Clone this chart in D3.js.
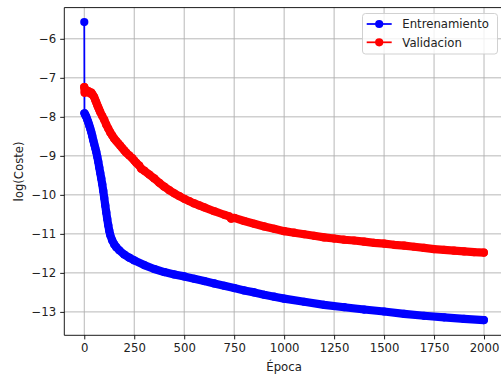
<!DOCTYPE html>
<html>
<head>
<meta charset="utf-8">
<script src="https://cdn.jsdelivr.net/npm/d3@7"></script>
<style>
  html, body { margin: 0; padding: 0; background: #ffffff; }
  svg { display: block; font-family: "DejaVu Sans", sans-serif; }
</style>
</head>
<body>
<svg id="chart" width="501" height="378"></svg>
<script>
// Training loss per epoch (log scale values)
const trainEpochs = [0,1,5,10,15,20,25,30,35,40,45,50,55,60,65,70,75,80,85,90,95,100,105,110,115,120,125,130,140,150,160,175,200,225,250,300,350,400,450,500,550,600,650,700,750,800,850,900,950,1000,1100,1200,1300,1400,1500,1600,1700,1800,1900,1999];
const trainLoss = [-5.57,-7.91,-7.95,-8.0,-8.07,-8.14,-8.22,-8.3,-8.39,-8.49,-8.6,-8.7,-8.8,-8.9,-9.02,-9.15,-9.3,-9.44,-9.58,-9.73,-9.9,-10.08,-10.27,-10.45,-10.62,-10.78,-10.92,-11.03,-11.17,-11.27,-11.34,-11.42,-11.53,-11.61,-11.68,-11.8,-11.9,-11.98,-12.04,-12.09,-12.15,-12.21,-12.27,-12.33,-12.39,-12.45,-12.5,-12.56,-12.61,-12.66,-12.74,-12.82,-12.88,-12.94,-12.99,-13.05,-13.1,-13.14,-13.18,-13.21];

// Validation loss per epoch
const valEpochs = [0,2,5,10,15,20,25,30,35,40,45,50,55,60,65,70,75,80,90,100,110,120,130,140,150,160,170,180,190,200,210,225,240,250,260,275,285,300,325,350,375,400,425,450,475,500,525,550,575,600,650,700,725,735,750,800,850,900,950,1000,1050,1100,1150,1200,1250,1300,1350,1400,1450,1500,1550,1600,1650,1700,1750,1800,1850,1900,1950,1999];
const valLoss = [-7.24,-7.38,-7.3,-7.33,-7.36,-7.34,-7.37,-7.4,-7.38,-7.42,-7.46,-7.5,-7.57,-7.63,-7.7,-7.76,-7.82,-7.88,-7.98,-8.08,-8.2,-8.3,-8.4,-8.48,-8.56,-8.62,-8.68,-8.74,-8.8,-8.86,-8.92,-8.99,-9.06,-9.12,-9.18,-9.25,-9.33,-9.38,-9.48,-9.58,-9.69,-9.79,-9.88,-9.96,-10.03,-10.1,-10.16,-10.22,-10.27,-10.32,-10.42,-10.51,-10.55,-10.61,-10.59,-10.67,-10.74,-10.81,-10.87,-10.93,-10.97,-11.01,-11.05,-11.09,-11.12,-11.15,-11.17,-11.2,-11.23,-11.25,-11.28,-11.3,-11.33,-11.36,-11.39,-11.41,-11.43,-11.45,-11.47,-11.48];

const xTicks = [0,250,500,750,1000,1250,1500,1750,2000];
const yTicks = [-13,-12,-11,-10,-9,-8,-7,-6];

const seriesNames = ["Entrenamiento", "Validacion"];
const seriesColors = ["#0000ff", "#ff0000"];

const series = [
  { name: seriesNames[0], color: seriesColors[0], pts: trainEpochs.map((e, i) => [e, trainLoss[i]]), bandFrom: 1 },
  { name: seriesNames[1], color: seriesColors[1], pts: valEpochs.map((e, i) => [e, valLoss[i]]), bandFrom: 0 }
];

const fontSize = "11.7px";
const svg = d3.select("#chart");
const plot = { left: 64.3, right: 503.8, top: 7.6, bottom: 335.3 };

const x = d3.scaleLinear().domain([-99.95, 2098.95]).range([plot.left, plot.right]);
const y = d3.scaleLinear().domain([-13.6, -5.2]).range([plot.bottom, plot.top]);

// grid
const grid = svg.append("g");
grid.selectAll(".gx").data(xTicks).join("line")
  .attr("x1", d => x(d)).attr("x2", d => x(d))
  .attr("y1", plot.top).attr("y2", plot.bottom)
  .attr("stroke", "#b0b0b0").attr("stroke-width", 0.9);
grid.selectAll(".gy").data(yTicks).join("line")
  .attr("x1", plot.left).attr("x2", plot.right)
  .attr("y1", d => y(d)).attr("y2", d => y(d))
  .attr("stroke", "#b0b0b0").attr("stroke-width", 0.9);

// data
const line = d3.line().x(d => x(d[0])).y(d => y(d[1]));
const markerR = 4.1;
series.forEach(s => {
  const g = svg.append("g");
  // continuous marker trail for densely sampled epochs
  g.append("path")
    .attr("d", line(s.pts.slice(s.bandFrom)))
    .attr("fill", "none").attr("stroke", s.color)
    .attr("stroke-width", markerR * 2)
    .attr("stroke-linejoin", "round").attr("stroke-linecap", "round");
  g.append("path")
    .attr("d", line(s.pts))
    .attr("fill", "none").attr("stroke", s.color).attr("stroke-width", 1.75);
  g.selectAll("circle").data(s.pts).join("circle")
    .attr("cx", d => x(d[0])).attr("cy", d => y(d[1]))
    .attr("r", markerR).attr("fill", s.color);
});

// spines
svg.append("line").attr("x1", plot.left).attr("x2", plot.left).attr("y1", plot.top).attr("y2", plot.bottom)
  .attr("stroke", "#000").attr("stroke-width", 0.9);
svg.append("line").attr("x1", plot.left).attr("x2", plot.right).attr("y1", plot.bottom).attr("y2", plot.bottom)
  .attr("stroke", "#000").attr("stroke-width", 0.9);
svg.append("line").attr("x1", plot.left).attr("x2", plot.right).attr("y1", plot.top).attr("y2", plot.top)
  .attr("stroke", "#000").attr("stroke-width", 0.9);

// axes
const xAxis = d3.axisBottom(x).tickValues(xTicks).tickSize(4.1).tickPadding(4.1).tickFormat(d3.format("d"));
const yAxis = d3.axisLeft(y).tickValues(yTicks).tickSize(4.1).tickPadding(4.1).tickFormat(d => d < 0 ? "\u2212" + Math.abs(d) : d);

const gx = svg.append("g").attr("transform", `translate(0,${plot.bottom})`).call(xAxis);
const gy = svg.append("g").attr("transform", `translate(${plot.left},0)`).call(yAxis);
[gx, gy].forEach(g => {
  g.select(".domain").remove();
  g.selectAll(".tick line").attr("stroke", "#000").attr("stroke-width", 0.9);
  g.selectAll(".tick text").attr("fill", "#222").attr("font-size", fontSize).attr("font-family", "DejaVu Sans, sans-serif");
});

// axis labels
svg.append("text").attr("x", (plot.left + plot.right) / 2).attr("y", 371)
  .attr("text-anchor", "middle").attr("font-size", fontSize).attr("fill", "#222").text("Época");
svg.append("text").attr("transform", `translate(22.5,${(plot.top + plot.bottom) / 2}) rotate(-90)`)
  .attr("text-anchor", "middle").attr("font-size", fontSize).attr("fill", "#222").text("log(Coste)");

// legend
const lg = svg.append("g");
lg.append("rect").attr("x", 362.5).attr("y", 13.5).attr("width", 135).attr("height", 40.5).attr("rx", 3)
  .attr("fill", "#ffffff").attr("fill-opacity", 0.8).attr("stroke", "#cccccc").attr("stroke-width", 0.9);
series.forEach((s, i) => {
  const cy = 24 + i * 18.3;
  lg.append("line").attr("x1", 366.7).attr("x2", 391.7).attr("y1", cy).attr("y2", cy)
    .attr("stroke", s.color).attr("stroke-width", 1.75);
  lg.append("circle").attr("cx", 379.2).attr("cy", cy).attr("r", markerR).attr("fill", s.color);
  lg.append("text").attr("x", 402.3).attr("y", cy + 4.2).attr("font-size", fontSize).attr("fill", "#222").text(s.name);
});
</script>
</body>
</html>
